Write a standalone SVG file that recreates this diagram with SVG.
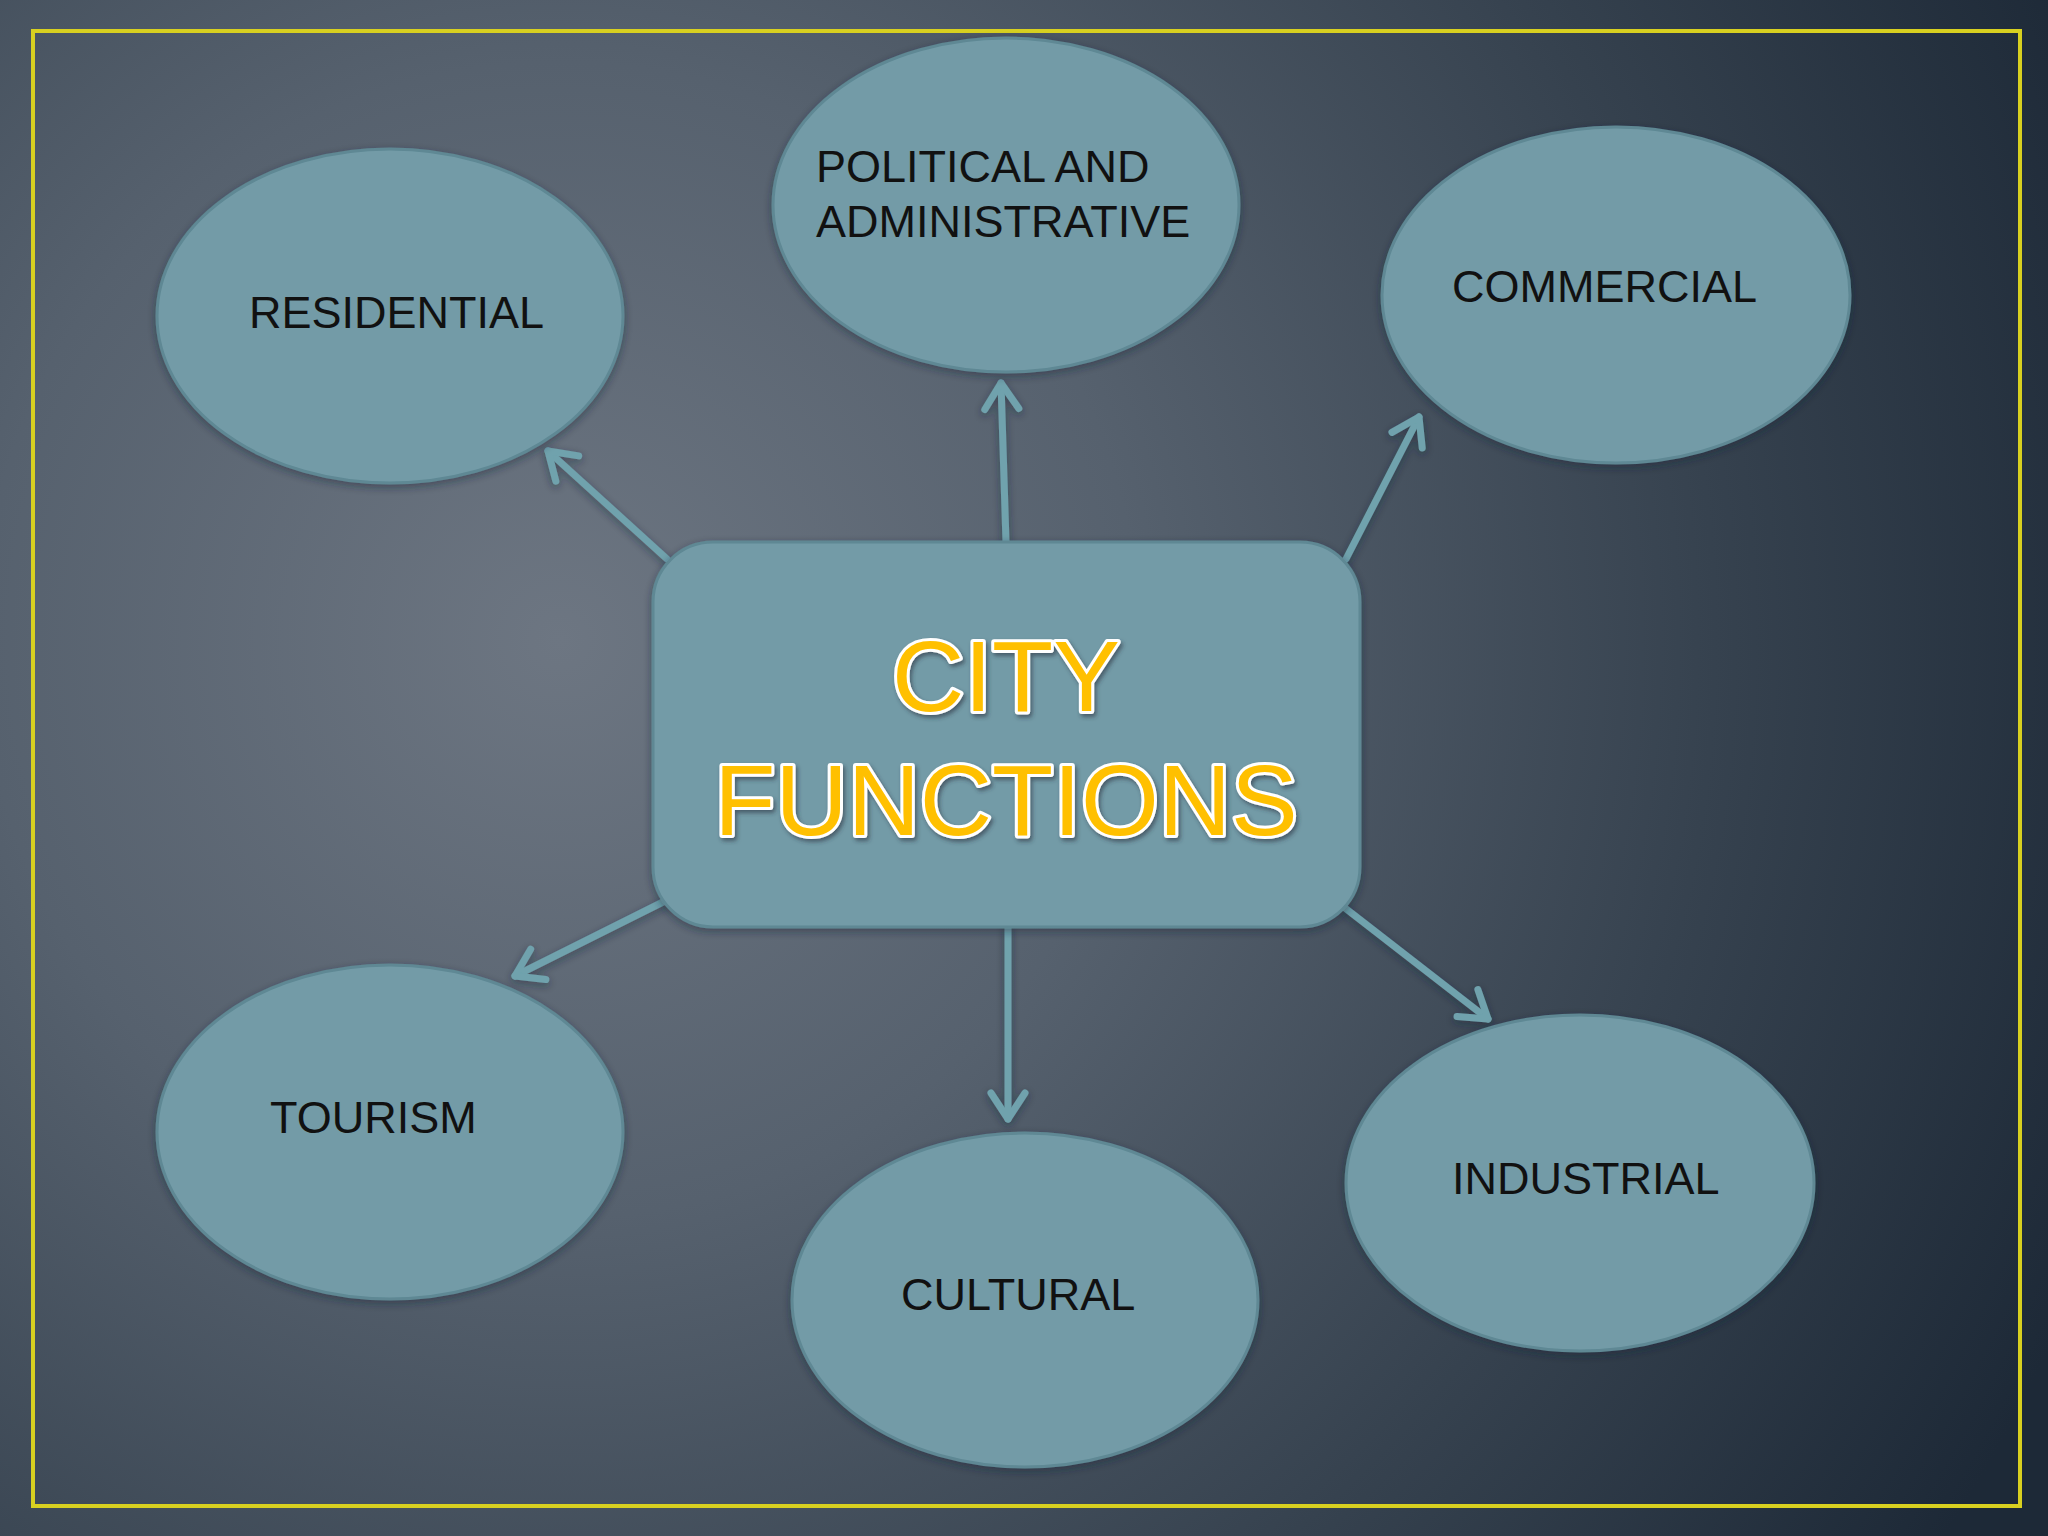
<svg xmlns="http://www.w3.org/2000/svg" width="2048" height="1536" viewBox="0 0 2048 1536">
  <defs>
    <radialGradient id="bg" gradientUnits="userSpaceOnUse" cx="560" cy="640" r="1650">
      <stop offset="0" stop-color="#6D7682"/>
      <stop offset="0.35" stop-color="#56616E"/>
      <stop offset="0.7" stop-color="#36424F"/>
      <stop offset="1" stop-color="#1D2937"/>
    </radialGradient>
    <filter id="sh" x="-10%" y="-10%" width="120%" height="125%">
      <feDropShadow dx="0" dy="3" stdDeviation="4" flood-color="#1a2430" flood-opacity="0.45"/>
    </filter>
    <filter id="tsh" x="-10%" y="-20%" width="120%" height="140%">
      <feDropShadow dx="2" dy="3" stdDeviation="2" flood-color="#2a3440" flood-opacity="0.6"/>
    </filter>
    <marker id="head" markerUnits="userSpaceOnUse" markerWidth="60" markerHeight="60" refX="0" refY="0" orient="auto" overflow="visible">
      <path d="M -26 -17 L 0 0 L -26 17" fill="none" stroke="#6FA2AD" stroke-width="7" stroke-linecap="round" stroke-linejoin="round"/>
    </marker>
  </defs>
  <style>
    .node { fill: #739BA7; stroke: #5E8894; stroke-width: 3; }
    .lbl { font-family: "Liberation Sans", Arial, sans-serif; font-size: 45px; fill: #111; }
    .conn { stroke: #6FA2AD; stroke-width: 7; fill: none; stroke-linecap: round; marker-end: url(#head); }
    .title { font-family: "Liberation Sans", Arial, sans-serif; font-size: 100px; fill: #FFC000; stroke: #FFFFFF; stroke-width: 6; stroke-linejoin: round; paint-order: stroke; text-anchor: middle; }
  </style>
  <rect x="0" y="0" width="2048" height="1536" fill="url(#bg)"/>
  <rect x="33" y="31" width="1987" height="1475" fill="none" stroke="#D8D020" stroke-width="4"/>

  <g id="connectors" filter="url(#sh)">
    <line class="conn" x1="667" y1="559" x2="548" y2="451"/>
    <line class="conn" x1="1006" y1="542" x2="1001" y2="383"/>
    <line class="conn" x1="1346" y1="559" x2="1419" y2="417"/>
    <line class="conn" x1="669" y1="899" x2="515" y2="976"/>
    <line class="conn" x1="1008" y1="922" x2="1008" y2="1119"/>
    <line class="conn" x1="1345" y1="908" x2="1488" y2="1019"/>
  </g>

  <g id="center">
    <rect class="node" x="653" y="542" width="707" height="385" rx="60" ry="60" filter="url(#sh)"/>
    <text class="title" x="1006" y="711" filter="url(#tsh)">CITY</text>
    <text class="title" x="1006" y="835" filter="url(#tsh)">FUNCTIONS</text>
  </g>

  <g id="residential">
    <ellipse class="node" cx="390" cy="316" rx="233" ry="167" filter="url(#sh)"/>
    <text class="lbl" x="249" y="328">RESIDENTIAL</text>
  </g>
  <g id="political">
    <ellipse class="node" cx="1006" cy="205" rx="233" ry="167" filter="url(#sh)"/>
    <text class="lbl" x="816" y="182">POLITICAL AND</text>
    <text class="lbl" x="816" y="237">ADMINISTRATIVE</text>
  </g>
  <g id="commercial">
    <ellipse class="node" cx="1616" cy="295" rx="234" ry="168" filter="url(#sh)"/>
    <text class="lbl" x="1452" y="302">COMMERCIAL</text>
  </g>
  <g id="tourism">
    <ellipse class="node" cx="390" cy="1132" rx="233" ry="167" filter="url(#sh)"/>
    <text class="lbl" x="270" y="1133">TOURISM</text>
  </g>
  <g id="cultural">
    <ellipse class="node" cx="1025" cy="1300" rx="233" ry="167" filter="url(#sh)"/>
    <text class="lbl" x="901" y="1310">CULTURAL</text>
  </g>
  <g id="industrial">
    <ellipse class="node" cx="1580" cy="1183" rx="234" ry="168" filter="url(#sh)"/>
    <text class="lbl" x="1452" y="1194">INDUSTRIAL</text>
  </g>
</svg>
